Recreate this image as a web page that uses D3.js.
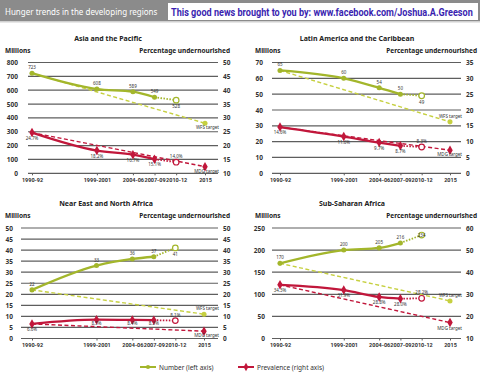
<!DOCTYPE html>
<html>
<head>
<meta charset="utf-8">
<script src="https://cdn.jsdelivr.net/npm/d3@7"></script>
<style>
body { margin: 0; background: #fff; }
svg { display: block; font-family: "Noto Sans", sans-serif; }
</style>
</head>
<body>
<svg id="chart" width="480" height="375"></svg>
<script>
// periods on the x axis (mid year used for spacing)
var periods = ["1990-92", "1999-2001", "2004-06", "2007-09", "2010-12", "2015"];
var periodYears = [1991, 2000, 2005, 2008, 2011, 2015];

// Asia and the Pacific
var asiaNumber = [723, 608, 589, 549, 528];
var asiaPrevalence = [24.7, 18.2, 16.7, 15.1, 14.0];
var asiaTargets = [361.5, 12.4];   // WFS (millions), MDG (%)
var asiaLeftTicks = [0, 100, 200, 300, 400, 500, 600, 700, 800];
var asiaRightTicks = [10, 15, 20, 25, 30, 35, 40, 45, 50];

// Latin America and the Caribbean
var latamNumber = [65, 60, 54, 50, 49];
var latamPrevalence = [14.6, 11.6, 9.7, 8.7, 8.3];
var latamTargets = [32.5, 7.3];
var latamLeftTicks = [0, 10, 20, 30, 40, 50, 60, 70];
var latamRightTicks = [0, 5, 10, 15, 20, 25, 30, 35];

// Near East and North Africa
var neNumber = [22, 33, 36, 37, 41];
var nePrevalence = [6.6, 8.5, 8.4, 8.3, 8.1];
var neTargets = [11, 3.3];
var neLeftTicks = [0, 5, 10, 15, 20, 25, 30, 35, 40, 45, 50];
var neRightTicks = [0, 5, 10, 15, 20, 25, 30, 35, 40, 45, 50];

// Sub-Saharan Africa
var ssaNumber = [170, 200, 205, 216, 234];
var ssaPrevalence = [34.3, 31.9, 28.8, 28.0, 28.2];
var ssaTargets = [85, 17.2];
var ssaLeftTicks = [0, 50, 100, 150, 200, 250];
var ssaRightTicks = [10, 20, 30, 40, 50, 60];

var green = "#a3b62b", greenLight = "#c6d040", red = "#c1173b";

var svg = d3.select("#chart");

// header band
svg.append("rect").attr("x", 0).attr("y", 0).attr("width", 480).attr("height", 21).attr("fill", "#8b8b8b");
svg.append("rect").attr("x", 0).attr("y", 21).attr("width", 480).attr("height", 1.5).attr("fill", "#d0d0d0");
svg.append("text").attr("x", 5).attr("y", 14.5)
   .attr("fill", "#fff").style("font-size", "8px")
   .text("Hunger trends in the developing regions");
svg.append("rect").attr("x", 168).attr("y", 3).attr("width", 310).attr("height", 17).attr("fill", "#fff");
var promo = svg.append("text")
   .attr("fill", "#3a1fb0")
   .style("font-family", "Roboto, sans-serif")
   .style("font-size", "11.5px").style("font-weight", "bold")
   .text("This good news brought to you by: www.facebook.com/Joshua.A.Greeson");
// squeeze to the width of the white box, like the condensed face in the original
var promoW = promo.node().getComputedTextLength();
promo.attr("transform", "translate(171,16) scale(" + (302 / promoW) + ",1)");

function drawPanel(p) {
    var g = svg.append("g");
    var x = d3.scaleLinear().domain([1991, 2015]).range(p.xRange);
    var yL = d3.scaleLinear().domain(p.leftDomain).range([p.bottom, p.top]);
    var yR = d3.scaleLinear().domain(p.rightDomain).range([p.bottom, p.top]);

    // titles
    g.append("text").attr("x", p.titleX).attr("y", p.top - 22)
     .attr("text-anchor", "middle").attr("fill", "#222")
     .style("font-size", "7px").style("font-weight", "bold").text(p.title);
    g.append("text").attr("x", p.millionsX).attr("y", p.top - 10)
     .attr("fill", "#222").style("font-size", "6.5px").style("font-weight", "bold").text("Millions");
    g.append("text").attr("x", p.pctX).attr("y", p.top - 10)
     .attr("text-anchor", "end").attr("fill", "#222")
     .style("font-size", "6.5px").style("font-weight", "bold").text("Percentage undernourished");

    // gridlines
    g.selectAll(".grid").data(p.leftTicks).enter().append("line")
     .attr("x1", p.gridStart).attr("x2", p.gridEnd)
     .attr("y1", function(d) { return yL(d); }).attr("y2", function(d) { return yL(d); })
     .attr("stroke", "#5e5e5e").attr("stroke-width", 1.2);

    // left axis labels
    var axL = g.append("g").attr("transform", "translate(" + p.leftLabelX + ",0)")
               .call(d3.axisLeft(yL).tickValues(p.leftTicks).tickSize(0).tickPadding(0));
    axL.select(".domain").remove();
    axL.selectAll("text").attr("fill", "#333").style("font-size", "6.5px").style("font-weight", "bold")
       .style("font-family", "'Noto Sans', sans-serif");

    // right axis labels
    var axR = g.append("g").attr("transform", "translate(" + (p.gridEnd + 5) + ",0)")
               .call(d3.axisRight(yR).tickValues(p.rightTicks).tickSize(0).tickPadding(0));
    axR.select(".domain").remove();
    axR.selectAll("text").attr("fill", "#333").style("font-size", "6.5px").style("font-weight", "bold")
       .style("font-family", "'Noto Sans', sans-serif");

    // x axis
    var axX = g.append("g").attr("transform", "translate(0," + p.bottom + ")")
               .call(d3.axisBottom(x).tickValues(periodYears).tickSize(2).tickPadding(3)
                       .tickFormat(function(d, i) { return periods[i]; }));
    axX.select(".domain").remove();
    axX.selectAll("line").attr("stroke", "#5e5e5e");
    axX.selectAll("text").attr("fill", "#333").style("font-size", "5.5px").style("font-weight", "bold")
       .style("font-family", "Roboto, sans-serif");

    drawSeries(g, x, yL, p.number, p.targets[0], green, greenLight, "circle",
               function(v) { return v; }, p.numLabels, "WFS target", p.wfsDy);
    drawSeries(g, x, yR, p.prevalence, p.targets[1], red, red, "diamond",
               function(v) { return v.toFixed(1) + "%"; }, p.prevLabels, "MDG target", p.mdgDy);

    function drawSeries(g, x, y, values, target, col, tcol, shape, fmt, labelDy, tlabel, tdy) {
        var pts = values.map(function(v, i) { return [periodYears[i], v]; });
        // target line
        g.append("path")
         .datum([pts[0], [2015, target]])
         .attr("d", d3.line().x(function(d) { return x(d[0]); }).y(function(d) { return y(d[1]); }))
         .attr("fill", "none").attr("stroke", tcol).attr("stroke-width", 1.4)
         .attr("stroke-dasharray", "4,2.5");
        // actual line
        g.append("path")
         .datum(pts.slice(0, 4))
         .attr("d", d3.line().curve(d3.curveMonotoneX).x(function(d) { return x(d[0]); }).y(function(d) { return y(d[1]); }))
         .attr("fill", "none").attr("stroke", col).attr("stroke-width", 2.3);
        // projection, dotted
        g.append("path")
         .datum(pts.slice(3, 5))
         .attr("d", d3.line().x(function(d) { return x(d[0]); }).y(function(d) { return y(d[1]); }))
         .attr("fill", "none").attr("stroke", col).attr("stroke-width", 1.8)
         .attr("stroke-dasharray", "1.5,1.5");
        // markers
        var sym = d3.symbol().type(shape == "circle" ? d3.symbolCircle : d3.symbolDiamond)
                    .size(shape == "circle" ? 20 : 26);
        g.selectAll(null).data(pts.slice(0, 4)).enter().append("path")
         .attr("d", sym)
         .attr("transform", function(d) { return "translate(" + x(d[0]) + "," + y(d[1]) + ")"; })
         .attr("fill", col);
        g.append("circle").attr("cx", x(pts[4][0])).attr("cy", y(pts[4][1])).attr("r", 2.8)
         .attr("fill", "#fff").attr("stroke", col).attr("stroke-width", 1.2);
        g.append("path").attr("d", sym)
         .attr("transform", "translate(" + x(2015) + "," + y(target) + ")")
         .attr("fill", tcol);
        // value labels
        g.selectAll(null).data(pts).enter().append("text")
         .attr("x", function(d) { return x(d[0]); })
         .attr("y", function(d, i) { return y(d[1]) + labelDy[i]; })
         .attr("text-anchor", "middle").attr("fill", "#333")
         .style("font-size", "4.5px")
         .text(function(d) { return fmt(d[1]); });
        g.append("text").attr("x", p.gridEnd + 1).attr("y", y(target) + tdy)
         .attr("text-anchor", "end").attr("fill", "#333").style("font-size", "4.5px").text(tlabel);
    }
}

var topY = [62.5, 173.3], botY = [228, 338.5];

drawPanel({ title: "Asia and the Pacific", titleX: 108, millionsX: 5, pctX: 230,
    xRange: [32, 205], gridStart: 28, gridEnd: 218, leftLabelX: 18,
    top: topY[0], bottom: topY[1], leftDomain: [0, 800], rightDomain: [10, 50],
    leftTicks: asiaLeftTicks, rightTicks: asiaRightTicks,
    number: asiaNumber, prevalence: asiaPrevalence, targets: asiaTargets,
    numLabels: [-4, -4, -4, -4, 8], prevLabels: [7, 7, 7, 7, -4], wfsDy: 6, mdgDy: 6 });

drawPanel({ title: "Latin America and the Caribbean", titleX: 357, millionsX: 255, pctX: 477,
    xRange: [280, 450], gridStart: 272, gridEnd: 461, leftLabelX: 263,
    top: topY[0], bottom: topY[1], leftDomain: [0, 70], rightDomain: [0, 35],
    leftTicks: latamLeftTicks, rightTicks: latamRightTicks,
    number: latamNumber, prevalence: latamPrevalence, targets: latamTargets,
    numLabels: [-4, -4, -4, -4, 8], prevLabels: [7, 7, 7, 7, -4], wfsDy: -4, mdgDy: 6 });

drawPanel({ title: "Near East and North Africa", titleX: 106, millionsX: 5, pctX: 230,
    xRange: [32, 204], gridStart: 21, gridEnd: 218, leftLabelX: 13,
    top: botY[0], bottom: botY[1], leftDomain: [0, 50], rightDomain: [0, 50],
    leftTicks: neLeftTicks, rightTicks: neRightTicks,
    number: neNumber, prevalence: nePrevalence, targets: neTargets,
    numLabels: [-4, -4, -4, -4, 8], prevLabels: [7, 5, 5, 5, -4], wfsDy: -4, mdgDy: 6 });

drawPanel({ title: "Sub-Saharan Africa", titleX: 352, millionsX: 255, pctX: 477,
    xRange: [280, 450], gridStart: 272, gridEnd: 461, leftLabelX: 265,
    top: botY[0], bottom: botY[1], leftDomain: [0, 250], rightDomain: [10, 60],
    leftTicks: ssaLeftTicks, rightTicks: ssaRightTicks,
    number: ssaNumber, prevalence: ssaPrevalence, targets: ssaTargets,
    numLabels: [-4, -4, -4, -4, 2], prevLabels: [7, 7, 7, 7, -4], wfsDy: -4, mdgDy: 7 });

// legend
var leg = svg.append("g").attr("transform", "translate(0,367)");
leg.append("line").attr("x1", 140).attr("x2", 156).attr("stroke", green).attr("stroke-width", 2);
leg.append("path").attr("d", d3.symbol().type(d3.symbolCircle).size(14)).attr("transform", "translate(148,0)").attr("fill", green);
leg.append("text").attr("x", 159).attr("y", 2.5).attr("fill", "#333").style("font-size", "6.5px").text("Number (left axis)");
leg.append("line").attr("x1", 238).attr("x2", 254).attr("stroke", red).attr("stroke-width", 2);
leg.append("path").attr("d", d3.symbol().type(d3.symbolDiamond).size(20)).attr("transform", "translate(246,0)").attr("fill", red);
leg.append("text").attr("x", 257).attr("y", 2.5).attr("fill", "#333").style("font-size", "6.5px").text("Prevalence (right axis)");
</script>
</body>
</html>
